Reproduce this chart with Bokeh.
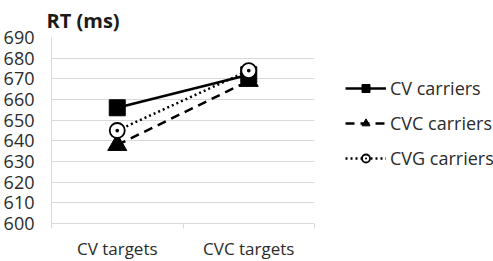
from bokeh.plotting import figure
from bokeh.models import (FixedTicker, LinearAxis, Range1d, Legend, LegendItem, Title)
from bokeh.embed import file_html
from bokeh.resources import INLINE

categories = ["CV targets", "CVC targets"]
series_names = ["CV carriers", "CVC carriers", "CVG carriers"]
cv_carriers = [656, 672]
cvc_carriers = [638, 669]
cvg_carriers = [645, 674]
y_ticks = [600, 610, 620, 630, 640, 650, 660, 670, 680, 690]

xpos = [i + 0.5 for i in range(len(categories))]
bounds = list(range(len(categories) + 1))
FONT = "Open Sans"
TXT = "#2b2b2b"
GRID = "#d9d9d9"

p = figure(frame_width=263, frame_height=186, output_backend="svg", toolbar_location=None,
           x_range=Range1d(0, len(categories)), y_range=Range1d(600, 690),
           min_border_left=42, min_border_right=180, min_border_top=29, min_border_bottom=20,
           x_axis_type=None)
p.outline_line_color = None
p.background_fill_color = "white"

# y axis
p.yaxis.ticker = FixedTicker(ticks=y_ticks)
p.yaxis.major_tick_line_color = None
p.yaxis.major_tick_out = 0
p.yaxis.minor_tick_line_color = None
p.yaxis.axis_line_color = GRID
p.yaxis.major_label_text_font = FONT
p.yaxis.major_label_text_font_size = "18px"
p.yaxis.major_label_text_color = TXT
p.yaxis.major_label_standoff = 17
p.ygrid.grid_line_color = GRID
p.ygrid.ticker = FixedTicker(ticks=y_ticks)
p.xgrid.visible = False

# category axis: labels at centres, tick marks at boundaries
xa = LinearAxis(ticker=FixedTicker(ticks=xpos, minor_ticks=bounds),
                major_label_overrides={x: c for x, c in zip(xpos, categories)})
xa.axis_line_color = GRID
xa.major_tick_line_color = None
xa.major_tick_in = 0
xa.major_tick_out = 0
xa.minor_tick_line_color = GRID
xa.minor_tick_in = 0
xa.minor_tick_out = 5
xa.major_label_text_font = FONT
xa.major_label_text_font_size = "17px"
xa.major_label_text_color = TXT
xa.major_label_standoff = 8
p.add_layout(xa, "below")

l1 = p.line(xpos, cv_carriers, line_color="black", line_width=2.5)
m1 = p.scatter(xpos, cv_carriers, marker="square", size=16, color="black")
l2 = p.line(xpos, cvc_carriers, line_color="black", line_width=2.5, line_dash="9 6")
m2 = p.scatter(xpos, cvc_carriers, marker="triangle", size=19, color="black")
l3 = p.line(xpos, cvg_carriers, line_color="black", line_width=2.5, line_dash="2 3")
m3 = p.scatter(xpos, cvg_carriers, marker="circle_dot", size=15, line_color="black",
               fill_color="white", line_width=1.8)

legend = Legend(items=[LegendItem(label=series_names[0], renderers=[l1, m1]),
                       LegendItem(label=series_names[1], renderers=[l2, m2]),
                       LegendItem(label=series_names[2], renderers=[l3, m3])],
                location=(31, 53), orientation="vertical")
legend.border_line_color = None
legend.background_fill_alpha = 0
legend.padding = 0
legend.margin = 0
legend.label_text_font = FONT
legend.label_text_font_size = "18px"
legend.label_text_color = TXT
legend.glyph_width = 41
legend.glyph_height = 20
legend.label_height = 20
legend.spacing = 11
legend.label_standoff = 4
p.add_layout(legend, "right")

t = Title(text="RT (ms)", text_font=FONT, text_font_size="20px", text_font_style="bold",
          text_color="#1a1a1a", align="left", offset=-5, standoff=8)
p.add_layout(t, "above")

open("out.html", "w").write(file_html(p, INLINE))
